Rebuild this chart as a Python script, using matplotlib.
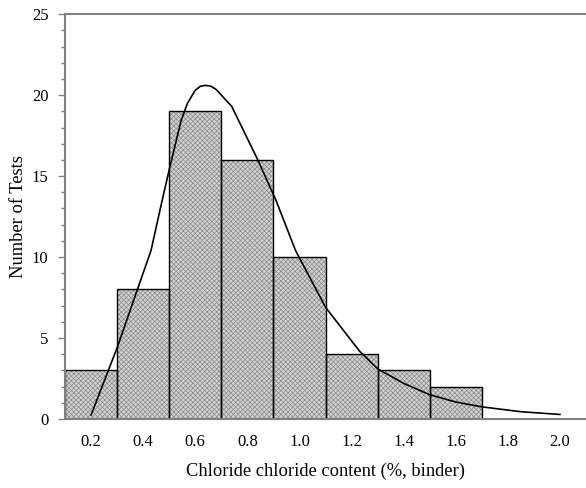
import matplotlib.pyplot as plt
import numpy as np
from matplotlib.ticker import MultipleLocator

# histogram bins (left edges) and counts
bin_left = [0.1, 0.3, 0.5, 0.7, 0.9, 1.1, 1.3, 1.5]
bin_width = 0.2
counts = [3, 8, 19, 16, 10, 4, 3, 2]

# fitted distribution curve
curve_x = [0.20, 0.30, 0.38, 0.43, 0.47, 0.50, 0.53, 0.545, 0.57, 0.60, 0.62, 0.64,
           0.66, 0.68, 0.70, 0.74, 0.84, 0.91, 0.985, 1.10, 1.23, 1.30, 1.40, 1.50,
           1.60, 1.70, 1.85, 2.00]
curve_y = [0.25, 4.4, 8.1, 10.4, 13.3, 15.4, 17.4, 18.4, 19.5, 20.3, 20.55, 20.6,
           20.55, 20.35, 20.0, 19.3, 16.0, 13.5, 10.4, 6.9, 4.2, 3.1, 2.2, 1.5,
           1.05, 0.75, 0.45, 0.28]

xticks = [0.2, 0.4, 0.6, 0.8, 1.0, 1.2, 1.4, 1.6, 1.8, 2.0]

plt.rcParams['font.family'] = ['Liberation Serif', 'DejaVu Serif']
plt.rcParams['hatch.linewidth'] = 0.5

fig = plt.figure(figsize=(5.86, 4.88), dpi=100)
ax = fig.add_axes([0.111, 0.1414, 0.889, 0.8296])

# shaded fill with a fine dither-like hatch, then black outlines on top
ax.bar(bin_left, counts, width=bin_width, align='edge', facecolor='#d2d2d2',
       edgecolor='#8a8a8a', hatch='xxxxxxx', linewidth=0, zorder=1)
ax.bar(bin_left, counts, width=bin_width, align='edge', fill=False,
       edgecolor='black', linewidth=1.0, zorder=2)

ax.plot(curve_x, curve_y, color='black', linewidth=1.2, zorder=3)

ax.set_xlim(0.1, 2.1)
ax.set_ylim(0, 25)
ax.set_xticks(xticks)
ax.set_xticklabels(['%.1f' % v for v in xticks])
ax.yaxis.set_major_locator(MultipleLocator(5))
ax.yaxis.set_minor_locator(MultipleLocator(1))

gray = '#808080'
for side in ['left', 'top', 'bottom']:
    ax.spines[side].set_color(gray)
    ax.spines[side].set_linewidth(1.5)
ax.spines['right'].set_visible(False)

ax.tick_params(axis='x', length=0, pad=11, labelsize=12)
ax.tick_params(axis='y', which='major', length=5, width=1, color=gray, pad=7, labelsize=12)
ax.tick_params(axis='y', which='minor', length=3, width=1, color=gray)

ax.set_xlabel('Chloride chloride content (%, binder)', fontsize=13.3, labelpad=9)
ax.set_ylabel('Number of Tests', fontsize=13.3)
ax.yaxis.set_label_coords(-0.073, 0.5)

fig.savefig('out.png', dpi=100)
